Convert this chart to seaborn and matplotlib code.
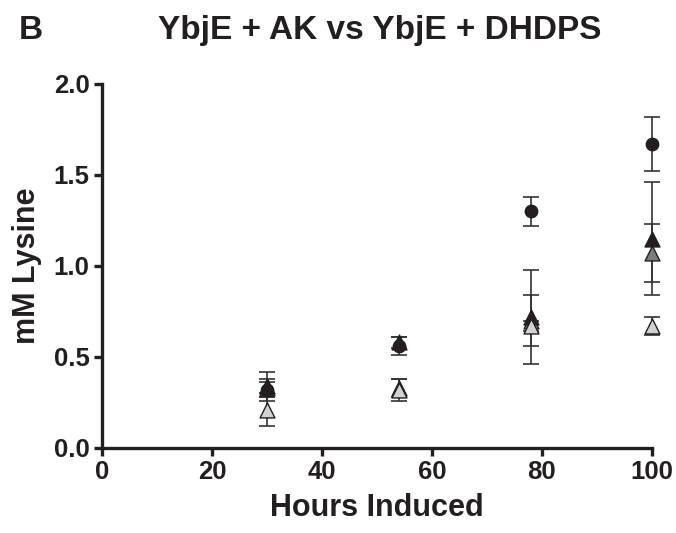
import numpy as np
import pandas as pd
import matplotlib
matplotlib.use("Agg")
import matplotlib.pyplot as plt
import seaborn as sns

# ==========================================
# Data
# ==========================================

hours = [30, 54, 78, 100]

series_names = ["circle_black", "tri_black", "tri_dark", "tri_light"]

circle_black = [0.32, 0.56, 1.30, 1.67]
circle_black_err = [0.04, 0.05, 0.08, 0.15]

tri_black = [0.34, 0.58, 0.72, 1.15]
tri_black_err = [0.08, 0.03, 0.26, 0.31]

tri_dark = [0.33, 0.33, 0.70, 1.07]
tri_dark_err = [0.05, 0.05, 0.14, 0.16]

tri_light = [0.21, 0.32, 0.67, 0.67]
tri_light_err = [0.09, 0.06, 0.03, 0.05]

x_ticks = [0, 20, 40, 60, 80, 100]
y_ticks = [0.0, 0.5, 1.0, 1.5, 2.0]

# ==========================================
# Table
# ==========================================

values = [circle_black, tri_black, tri_dark, tri_light]
errors = [circle_black_err, tri_black_err, tri_dark_err, tri_light_err]

df = pd.DataFrame({
    "hours": hours * 4,
    "lysine": sum(values, []),
    "err": sum(errors, []),
    "series": [s for s in series_names for _ in hours],
})

colors = {
    "circle_black": "#231f20",
    "tri_black": "#231f20",
    "tri_dark": "#7b7b7b",
    "tri_light": "#d2d2d2",
}
markers = {
    "circle_black": "o",
    "tri_black": "^",
    "tri_dark": "^",
    "tri_light": "^",
}
sizes = {
    "circle_black": 80,
    "tri_black": 115,
    "tri_dark": 115,
    "tri_light": 115,
}
# drawing order: dark gray at the back, light gray in front
zorders = {
    "circle_black": 5,
    "tri_black": 4,
    "tri_dark": 3,
    "tri_light": 6,
}

# ==========================================
# Plot
# ==========================================

sns.set_style("ticks")
plt.rcParams["font.family"] = ["Liberation Sans", "DejaVu Sans"]

fig = plt.figure(figsize=(6.76, 5.33), dpi=100)
ax = fig.add_axes([0.151, 0.1595, 0.813, 0.683])

for name in series_names:
    sub = df[df["series"] == name]
    eb = ax.errorbar(
        sub["hours"], sub["lysine"], yerr=sub["err"],
        fmt="none", ecolor="#333333", elinewidth=1.2,
        capsize=5.5, capthick=1.2, zorder=2,
    )
    for art in eb.lines[1] + eb.lines[2]:
        art.set_clip_on(False)

for name in series_names:
    sub = df[df["series"] == name]
    sns.scatterplot(
        data=sub, x="hours", y="lysine",
        marker=markers[name], s=sizes[name],
        color=colors[name], edgecolor="#231f20", linewidth=1.0,
        ax=ax, zorder=zorders[name], legend=False, clip_on=False,
    )

ax.set_xlim(0, 100)
ax.set_ylim(0, 2.0)
ax.set_xticks(x_ticks)
ax.set_yticks(y_ticks)
ax.set_yticklabels([f"{v:.1f}" for v in y_ticks])

sns.despine(ax=ax)
for side in ["left", "bottom"]:
    ax.spines[side].set_linewidth(2.4)
    ax.spines[side].set_color("#231f20")

ax.tick_params(axis="both", width=2.4, length=6, color="#231f20",
               labelsize=18.5, labelcolor="#231f20", pad=3)
for lab in ax.get_xticklabels() + ax.get_yticklabels():
    lab.set_fontweight("bold")

ax.set_xlabel("Hours Induced", fontsize=22, fontweight="bold",
              color="#231f20", labelpad=6)
ax.set_ylabel("mM Lysine", fontsize=22, fontweight="bold",
              color="#231f20", labelpad=8)

fig.text(0.562, 0.942, "YbjE + AK vs YbjE + DHDPS", ha="center", va="center",
         fontsize=24, fontweight="bold", color="#231f20")
fig.text(0.028, 0.942, "B", ha="left", va="center",
         fontsize=24, fontweight="bold", color="#231f20")

fig.savefig("out.png", dpi=100)
